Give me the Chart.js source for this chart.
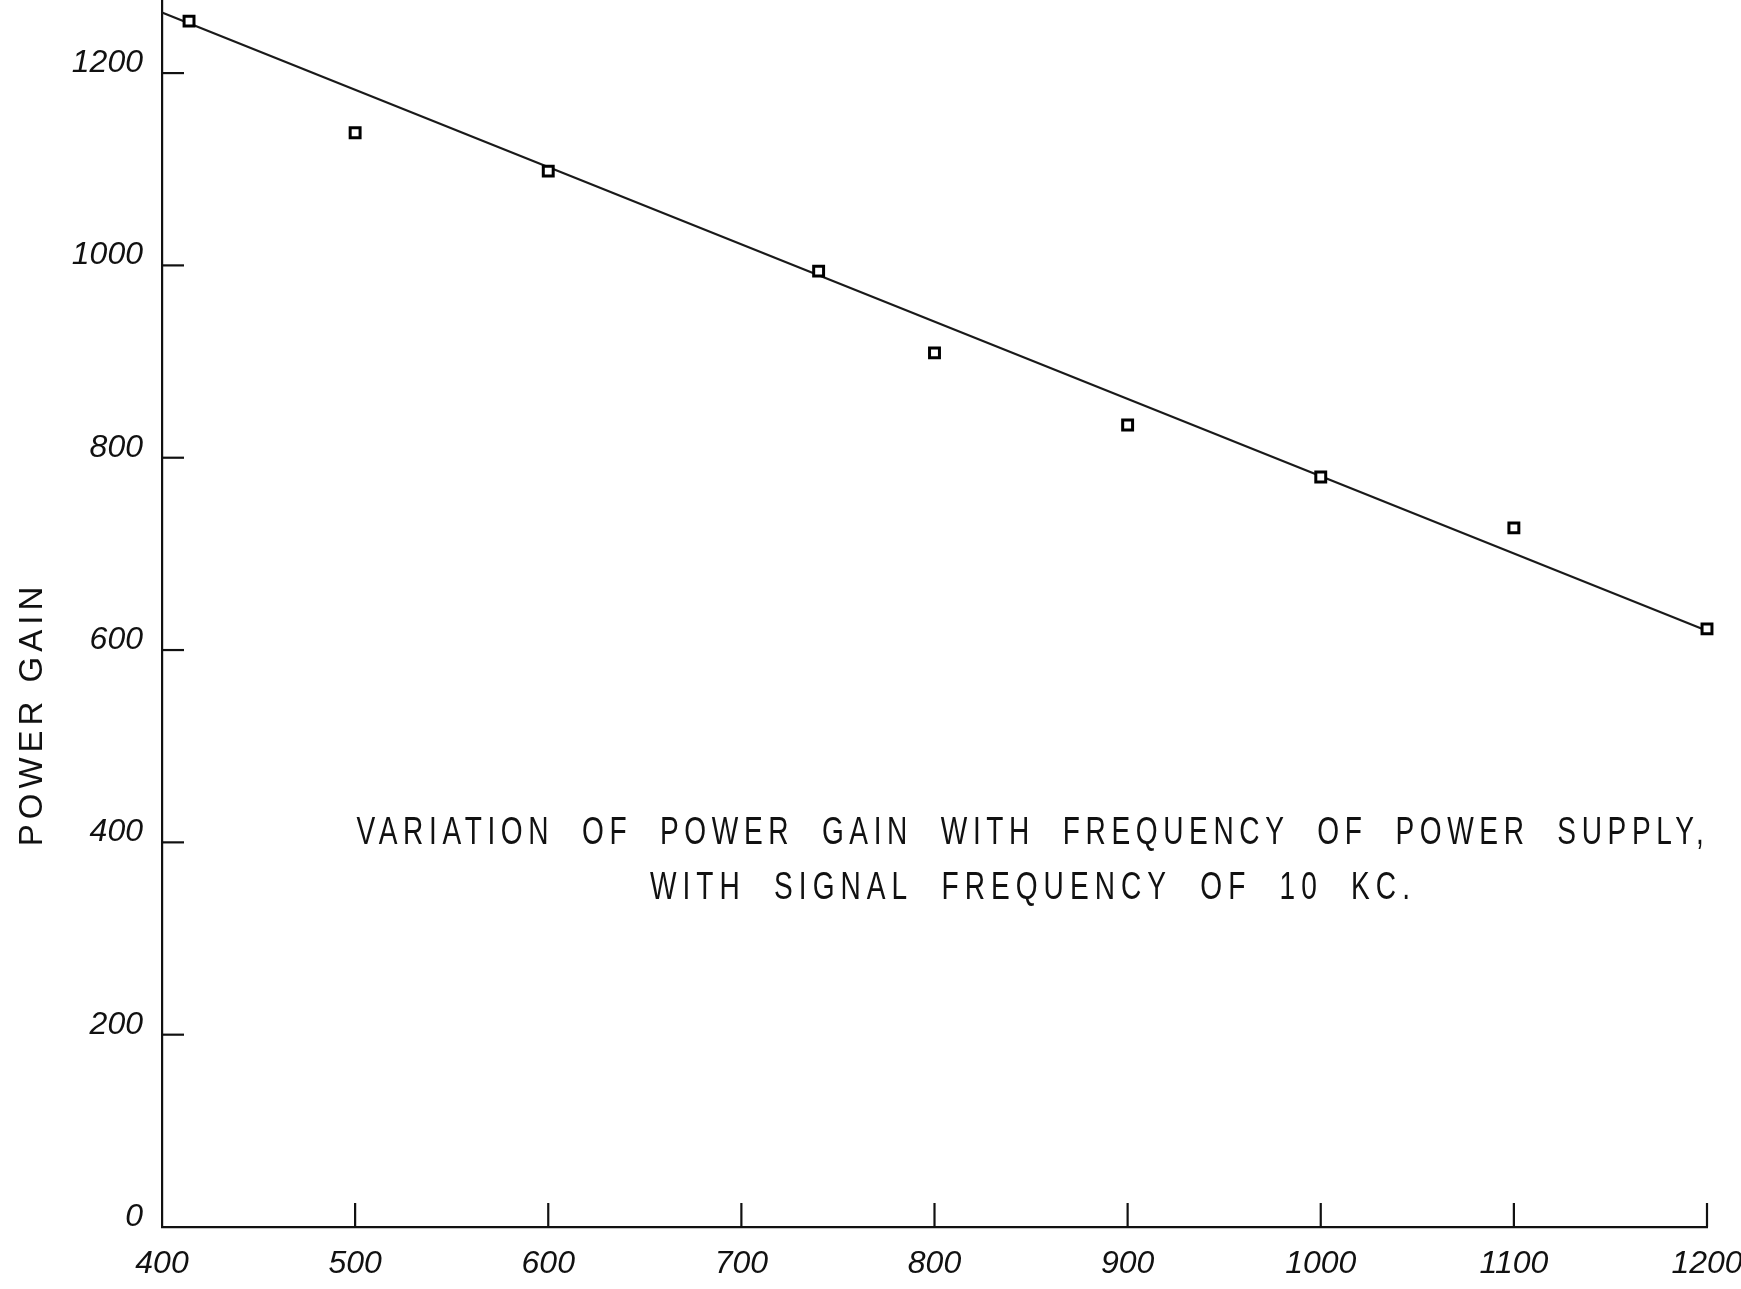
<!DOCTYPE html>
<html><head><meta charset="utf-8">
<script src="https://cdn.jsdelivr.net/npm/chart.js@4.4.1/dist/chart.umd.min.js"></script>
<style>html,body{margin:0;padding:0;background:#fff;}canvas{display:block;}</style>
</head><body>
<canvas id="c" width="1741" height="1289"></canvas>
<script>
const frequency = [414, 500, 600, 740, 800, 900, 1000, 1100, 1200];
const powerGain = [1254, 1138, 1098, 994, 909, 834, 780, 727, 622];
const fitFrequency = [400, 1200];
const fitGain = [1263, 620];
const xTicks = [400, 500, 600, 700, 800, 900, 1000, 1100, 1200];
const yTicks = [0, 200, 400, 600, 800, 1000, 1200];
const yAxisTitle = 'POWER GAIN';
const captionLines = ['VARIATION OF POWER GAIN WITH FREQUENCY OF POWER SUPPLY,', 'WITH SIGNAL FREQUENCY OF 10 KC.'];

const ink = '#111';
const tickFont = {family: '"Liberation Sans", Arial, sans-serif', size: 32, style: 'italic'};

const handDrawn = {
  id: 'handDrawn',
  afterDraw(chart) {
    const ctx = chart.ctx;
    const xs = chart.scales.x, ys = chart.scales.y;
    const a = chart.chartArea;
    ctx.save();
    ctx.strokeStyle = ink;
    ctx.lineWidth = 2.2;
    // inward tick marks
    ys.ticks.forEach(t => {
      if (t.value <= 0) return;
      const py = ys.getPixelForValue(t.value);
      ctx.beginPath(); ctx.moveTo(a.left, py); ctx.lineTo(a.left + 22, py); ctx.stroke();
    });
    xs.ticks.forEach(t => {
      if (t.value <= xs.min) return;
      const px = xs.getPixelForValue(t.value);
      ctx.beginPath(); ctx.moveTo(px, a.bottom); ctx.lineTo(px, a.bottom - 24); ctx.stroke();
    });
    // y axis title
    ctx.fillStyle = ink;
    ctx.font = '33px "Liberation Sans", Arial, sans-serif';
    ctx.textAlign = 'center';
    ctx.textBaseline = 'middle';
    ctx.letterSpacing = '5px';
    ctx.save();
    ctx.translate(33, 716);
    ctx.rotate(-Math.PI / 2);
    ctx.fillText(yAxisTitle, 2, 0);
    ctx.restore();
    // caption
    const cx = xs.getPixelForValue(851);
    const rows = [{y: ys.getPixelForValue(409), w: 1353}, {y: ys.getPixelForValue(352), w: 766}];
    ctx.font = '39px "Liberation Sans", Arial, sans-serif';
    ctx.textAlign = 'left';
    const sx = 0.72;
    captionLines.forEach((line, i) => {
      ctx.letterSpacing = '0px';
      ctx.wordSpacing = '0px';
      const w0 = ctx.measureText(line).width;
      const n = line.length;
      const k = line.split(' ').length - 1;
      const ws = 20;
      const s = (rows[i].w / sx - w0 - k * ws) / n;
      ctx.letterSpacing = s + 'px';
      ctx.wordSpacing = ws + 'px';
      ctx.save();
      ctx.translate(cx - rows[i].w / 2, rows[i].y);
      ctx.scale(sx, 1);
      ctx.fillText(line, 0, 0);
      ctx.restore();
    });
    ctx.restore();
  }
};

new Chart(document.getElementById('c'), {
  type: 'scatter',
  data: {
    datasets: [
      {
        label: 'Measured',
        data: frequency.map((f, i) => ({x: f, y: powerGain[i]})),
        pointStyle: 'rect',
        pointRadius: 7,
        pointBorderWidth: 3,
        borderColor: '#000',
        backgroundColor: '#fff',
        showLine: false,
        clip: false
      },
      {
        label: 'Fit',
        data: fitFrequency.map((f, i) => ({x: f, y: fitGain[i]})),
        showLine: true,
        borderColor: '#1a1a1a',
        borderWidth: 2.2,
        pointRadius: 0,
        clip: false
      }
    ]
  },
  options: {
    responsive: false,
    devicePixelRatio: 1,
    animation: false,
    layout: {autoPadding: false, padding: {left: 0, right: 34, top: 0, bottom: 0}},
    plugins: {legend: {display: false}, tooltip: {enabled: false}, title: {display: false}},
    scales: {
      x: {
        type: 'linear', min: 400, max: 1200,
        afterBuildTicks(s) { s.ticks = xTicks.map(v => ({value: v})); },
        afterFit(s) { s.height = 62; s.paddingLeft = 0; s.paddingRight = 0; },
        grid: {display: false, drawTicks: false},
        border: {display: true, color: ink, width: 2.2},
        ticks: {font: tickFont, color: ink, padding: 18, maxRotation: 0, autoSkip: false, callback: v => String(v)}
      },
      y: {
        type: 'linear', min: 0, max: 1276,
        afterBuildTicks(s) { s.ticks = yTicks.map(v => ({value: v})); },
        afterFit(s) { s.width = 162; s.paddingTop = 0; s.paddingBottom = 0; },
        grid: {display: false, drawTicks: false},
        border: {display: true, color: ink, width: 2.2},
        ticks: {font: tickFont, color: ink, padding: 19, labelOffset: -10, autoSkip: false, callback: v => String(v)}
      }
    }
  },
  plugins: [handDrawn]
});
</script>
</body></html>
